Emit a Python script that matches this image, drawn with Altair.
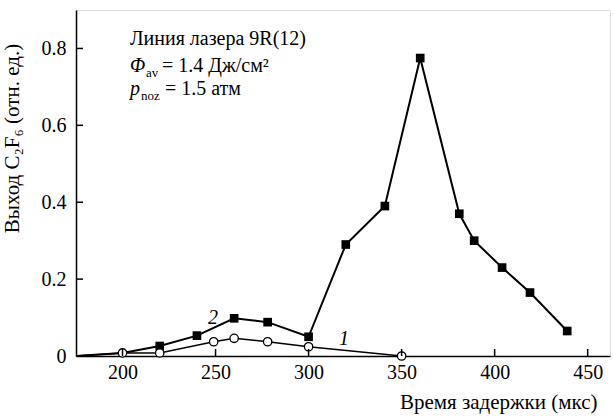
import altair as alt
import pandas as pd

# Series 2 (filled squares)
t2 = [175, 200, 220, 240, 260, 278, 300, 320, 341, 360, 381, 389, 404, 419, 439]
v2 = [0.0, 0.008, 0.026, 0.053, 0.098, 0.088, 0.050, 0.290, 0.390, 0.775, 0.370, 0.300, 0.230, 0.165, 0.065]
m2 = [False, False, True, True, True, True, True, True, True, True, True, True, True, True, True]

# Series 1 (open circles)
t1 = [175, 200, 220, 249, 260, 278, 300, 350]
v1 = [0.0, 0.008, 0.008, 0.037, 0.046, 0.037, 0.024, 0.0]
m1 = [False, True, True, True, True, True, True, True]

x_ticks = [200, 250, 300, 350, 400, 450]
y_ticks = [0, 0.2, 0.4, 0.6, 0.8]

# annotation pieces: text, x, y, style
ann_text = ["Линия лазера 9R(12)",
            "Φ", "av", "= 1.4 Дж/см²",
            "p", "noz", "= 1.5 атм",
            "2", "1"]
ann_x = [204.0,
         204.0, 212.6, 221.2,
         204.0, 209.9, 222.8,
         246.0, 316.4]
ann_y = [0.809,
         0.739, 0.726, 0.739,
         0.679, 0.666, 0.679,
         0.083, 0.028]
ann_style = ["reg",
             "ital", "sub", "reg",
             "ital", "sub", "reg",
             "ital", "ital"]

FONT = "Liberation Serif, serif"
W, H = 534, 346

xs = alt.Scale(domain=[175, 462], nice=False, zero=False)
ys = alt.Scale(domain=[0, 0.9], nice=False)

s2 = pd.DataFrame({"t": t2, "v": v2, "m": m2})
s1 = pd.DataFrame({"t": t1, "v": v1, "m": m1})
ann = pd.DataFrame({"text": ann_text, "x": ann_x, "y": ann_y, "style": ann_style})
xt = pd.DataFrame({"t": x_ticks})
yt = pd.DataFrame({"v": [v for v in y_ticks if v > 0]})

xaxis = alt.Axis(values=x_ticks, ticks=False, grid=False, domainColor="black", domainWidth=1.5,
                 labelFont=FONT, labelFontSize=20, labelColor="black", labelPadding=6,
                 title="Время задержки (мкс)", titleFont=FONT, titleFontSize=21,
                 titleFontWeight="normal", titleColor="black",
                 titleX=521, titleY=52, titleAlign="right", titleBaseline="alphabetic")
yaxis = alt.Axis(values=y_ticks, ticks=False, grid=False, domainColor="black", domainWidth=1.5,
                 labelFont=FONT, labelFontSize=20, labelColor="black", labelPadding=10,
                 labelExpr="datum.value == 0 ? '0' : format(datum.value, '.1f')",
                 title="Выход C₂F₆ (отн. ед.)", titleFont=FONT, titleFontSize=21,
                 titleFontWeight="normal", titleColor="black",
                 titleX=-54, titleY=128, titleAlign="center", titleAngle=270)

base_line2 = alt.Chart(s2).mark_line(color="black", strokeWidth=2).encode(
    x=alt.X("t:Q", scale=xs, axis=xaxis),
    y=alt.Y("v:Q", scale=ys, axis=yaxis),
)
pts2 = alt.Chart(s2).transform_filter("datum.m").mark_point(
    shape="square", filled=True, color="black", size=75, opacity=1).encode(
    x=alt.X("t:Q", scale=xs), y=alt.Y("v:Q", scale=ys))
line1 = alt.Chart(s1).mark_line(color="black", strokeWidth=1.5).encode(
    x=alt.X("t:Q", scale=xs), y=alt.Y("v:Q", scale=ys))
pts1 = alt.Chart(s1).transform_filter("datum.m").mark_point(
    shape="circle", filled=True, fill="white", stroke="black", strokeWidth=1.3, size=70, opacity=1).encode(
    x=alt.X("t:Q", scale=xs), y=alt.Y("v:Q", scale=ys))

xtick = alt.Chart(xt).mark_rule(color="black", strokeWidth=1.5).encode(
    x=alt.X("t:Q", scale=xs), y=alt.value(H), y2=alt.value(H - 7))
ytick = alt.Chart(yt).mark_rule(color="black", strokeWidth=1.5).encode(
    y=alt.Y("v:Q", scale=ys), x=alt.value(0), x2=alt.value(7))

def txt(style, **kw):
    return alt.Chart(ann).transform_filter(f"datum.style == '{style}'").mark_text(
        font=FONT, align="left", baseline="alphabetic", color="black", **kw).encode(
        x=alt.X("x:Q", scale=xs), y=alt.Y("y:Q", scale=ys), text="text:N")

t_reg = txt("reg", fontSize=20)
t_ital = txt("ital", fontSize=20, fontStyle="italic")
t_sub = txt("sub", fontSize=13)

chart = alt.layer(base_line2, pts2, line1, pts1, xtick, ytick, t_reg, t_ital, t_sub).properties(
    width=W, height=H,
    autosize=alt.AutoSizeParams(type="none"),
    padding={"left": 76, "top": 10, "right": 3, "bottom": 60},
).configure_view(stroke=None).configure(background="white")

chart.save("out.html", embed_options={"renderer": "svg", "actions": False})
